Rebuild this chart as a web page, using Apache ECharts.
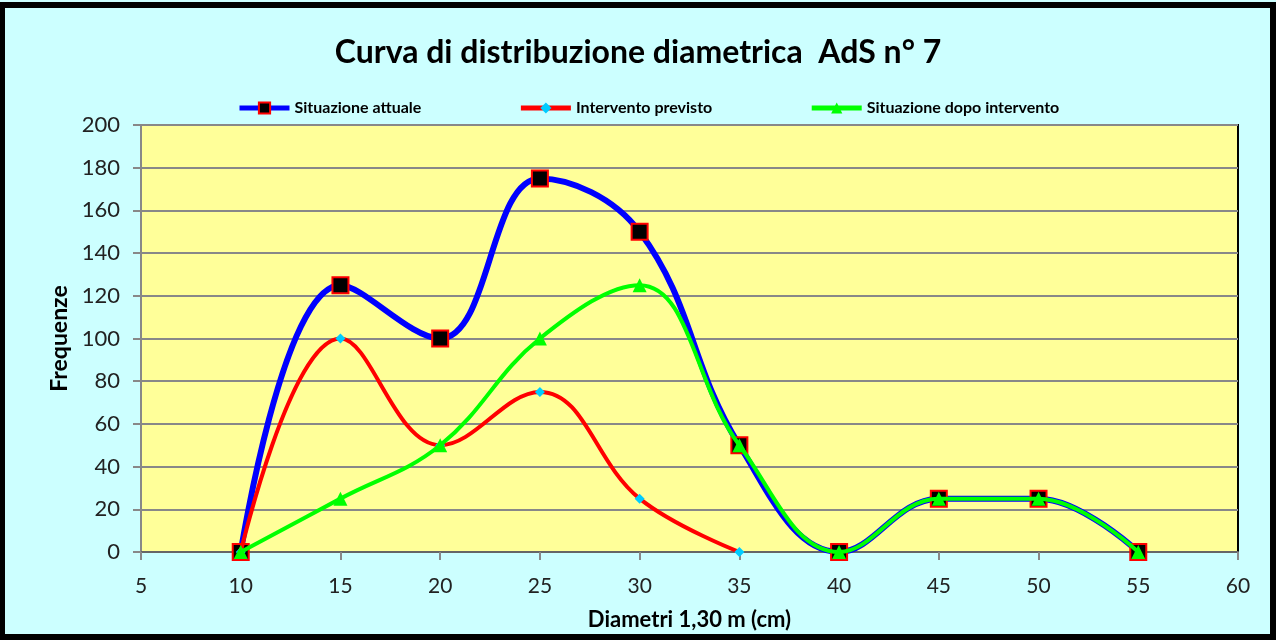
<!DOCTYPE html>
<html>
<head>
<meta charset="utf-8">
<script src="https://cdn.jsdelivr.net/npm/echarts@6/dist/echarts.min.js"></script>
<style>
  html, body { margin: 0; padding: 0; background: #ccffff; }
  #chart { width: 1276px; height: 640px; }
</style>
</head>
<body>
<div id="chart"></div>
<script>
const diametri = [10, 15, 20, 25, 30, 35, 40, 45, 50, 55];
const situazioneAttuale = [0, 125, 100, 175, 150, 50, 0, 25, 25, 0];
const interventoPrevisto = [0, 100, 50, 75, 25, 0];
const situazioneDopo = [0, 25, 50, 100, 125, 50, 0, 25, 25, 0];

const font = 'Lato, "Open Sans", sans-serif';

function pairs(vals) {
    return vals.map((v, i) => [diametri[i], v]);
}

const chart = echarts.init(document.getElementById('chart'));

const option = {
    backgroundColor: '#ccffff',
    animation: false,
    title: {
        text: 'Curva di distribuzione diametrica  AdS n° 7',
        left: 'center',
        top: 32,
        textStyle: { fontFamily: font, fontWeight: 'bold', fontSize: 32, color: '#000' }
    },
    legend: {
        left: 232,
        top: 95,
        itemWidth: 50,
        itemHeight: 14,
        itemGap: 97,
        lineStyle: { width: 5 },
        textStyle: { fontFamily: font, fontWeight: 'bold', fontSize: 16, color: '#000' },
        data: ['Situazione attuale', 'Intervento previsto', 'Situazione dopo intervento']
    },
    grid: {
        left: 141, right: 38, top: 125, bottom: 88,
        show: true,
        backgroundColor: '#ffff99',
        borderColor: '#000',
        borderWidth: 2
    },
    xAxis: {
        type: 'value',
        min: 5, max: 60, interval: 5,
        name: 'Diametri 1,30 m (cm)',
        nameLocation: 'middle',
        nameGap: 57,
        nameTextStyle: { fontFamily: font, fontWeight: 'bold', fontSize: 22, color: '#000' },
        axisLine: { show: true, lineStyle: { color: '#666', width: 2 } },
        axisTick: { show: true, length: 8, lineStyle: { color: '#888', width: 2 } },
        axisLabel: { margin: 24, fontFamily: font, fontSize: 21, color: '#222' },
        splitLine: { show: false }
    },
    yAxis: {
        type: 'value',
        min: 0, max: 200, interval: 20,
        name: 'Frequenze',
        nameLocation: 'middle',
        nameRotate: 90,
        nameGap: 70,
        nameTextStyle: { fontFamily: font, fontWeight: 'bold', fontSize: 23, color: '#000' },
        axisLine: { show: true, lineStyle: { color: '#888', width: 2 } },
        axisTick: { show: true, length: 8, lineStyle: { color: '#888', width: 2 } },
        axisLabel: { margin: 21, fontFamily: font, fontSize: 22, color: '#222' },
        splitLine: { show: true, lineStyle: { color: '#888', width: 2 } }
    },
    series: [
        {
            name: 'Situazione attuale',
            type: 'line',
            smooth: 0.4,
            data: pairs(situazioneAttuale),
            lineStyle: { color: '#0000ff', width: 6 },
            symbol: 'rect',
            symbolSize: 16,
            itemStyle: { color: '#000', borderColor: '#ff0000', borderWidth: 2 },
            z: 2
        },
        {
            name: 'Intervento previsto',
            type: 'line',
            smooth: 0.4,
            data: pairs(interventoPrevisto),
            lineStyle: { color: '#ff0000', width: 4 },
            symbol: 'diamond',
            symbolSize: 10,
            itemStyle: { color: '#00ccff', borderWidth: 0 },
            z: 3
        },
        {
            name: 'Situazione dopo intervento',
            type: 'line',
            smooth: 0.4,
            data: pairs(situazioneDopo),
            lineStyle: { color: '#00ff00', width: 4 },
            symbol: 'triangle',
            symbolSize: 14,
            itemStyle: { color: '#00ff00', borderWidth: 0 },
            z: 4
        }
    ],
    graphic: [
        {
            type: 'rect',
            shape: { x: 2, y: 5, width: 1271, height: 632 },
            style: { fill: 'none', stroke: '#000', lineWidth: 6 },
            silent: true
        }
    ]
};

chart.setOption(option);
</script>
</body>
</html>
